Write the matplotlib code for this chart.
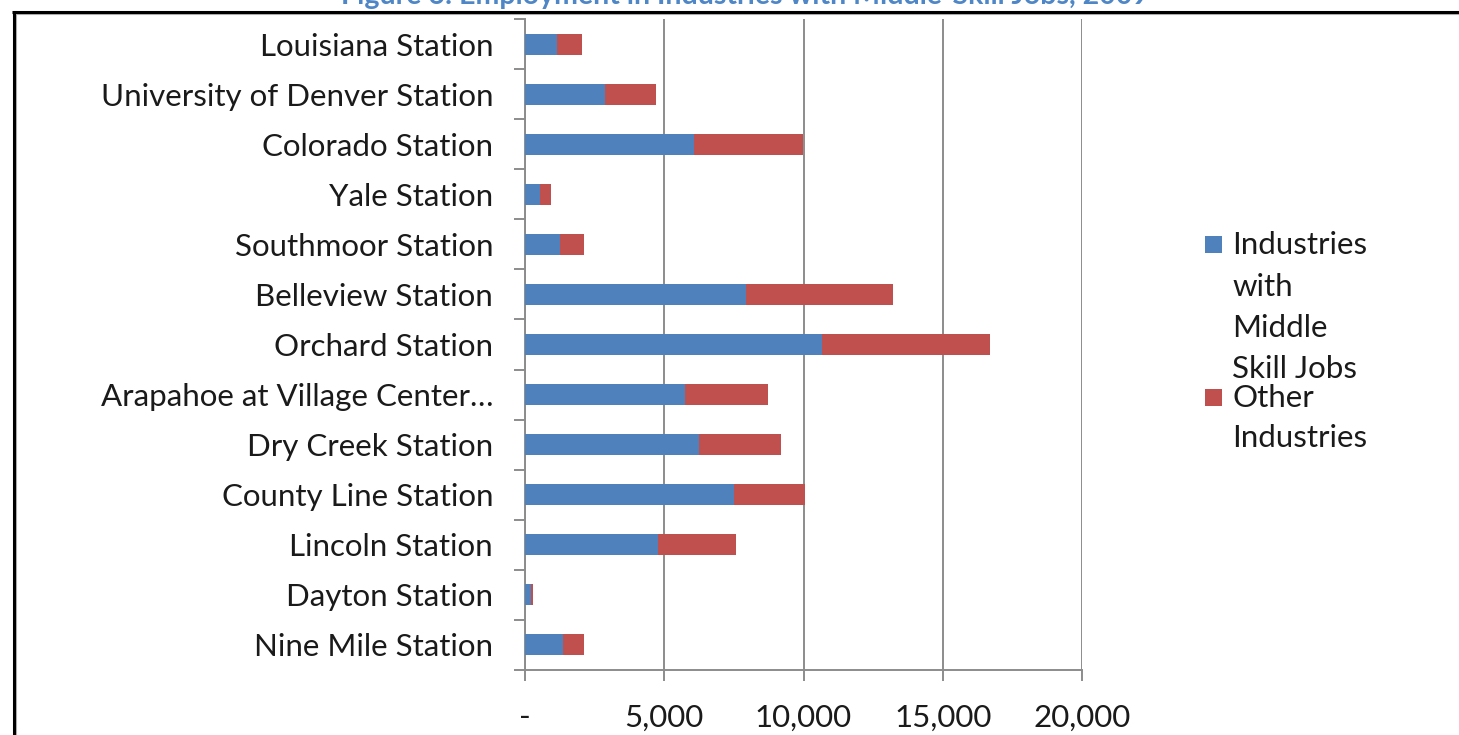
import matplotlib
matplotlib.use("Agg")
import matplotlib.pyplot as plt
from matplotlib.lines import Line2D
from matplotlib.patches import Rectangle
import numpy as np

stations = [
    "Louisiana Station",
    "University of Denver Station",
    "Colorado Station",
    "Yale Station",
    "Southmoor Station",
    "Belleview Station",
    "Orchard Station",
    "Arapahoe at Village Center\u2026",
    "Dry Creek Station",
    "County Line Station",
    "Lincoln Station",
    "Dayton Station",
    "Nine Mile Station",
]
middle_skill = [1140, 2880, 6070, 550, 1260, 7930, 10670, 5730, 6250, 7520, 4780, 210, 1370]
other = [900, 1830, 3900, 400, 850, 5270, 6010, 3010, 2940, 2550, 2790, 70, 740]

x_ticks = [0, 5000, 10000, 15000, 20000]
x_tick_labels = ["-", "5,000", "10,000", "15,000", "20,000"]

series_names = ["Industries with Middle Skill Jobs", "Other Industries"]
legend_lines = [["Industries", "with", "Middle", "Skill Jobs"], ["Other", "Industries"]]

BLUE = "#4F81BD"
RED = "#C0504D"
GRID = "#8C8C8C"
FONT = "Lato"
FS = 22.5
W, H = 1459, 735

fig = plt.figure(figsize=(W / 100, H / 100), dpi=100)
fig.patch.set_facecolor("white")

ax = fig.add_axes([525 / W, 1 - 670 / H, (1082 - 525) / W, (670 - 19) / H])

y = np.arange(len(stations))
ax.barh(y, middle_skill, height=0.42, color=BLUE, label=series_names[0], zorder=3)
ax.barh(y, other, left=middle_skill, height=0.42, color=RED, label=series_names[1], zorder=3)

ax.set_xlim(0, 20000)
ax.set_ylim(len(stations) - 0.5, -0.5)

# vertical gridlines
ax.set_xticks(x_ticks)
ax.set_xticklabels(x_tick_labels, fontsize=FS, family=FONT, color="#1a1a1a")
ax.grid(axis="x", color=GRID, lw=1.4, zorder=0)
ax.tick_params(axis="x", direction="out", length=8, width=1.4, color=GRID, pad=16)

# category boundaries as major ticks, names as minor-tick labels
ax.set_yticks(np.arange(-0.5, len(stations), 1.0))
ax.set_yticklabels([])
ax.set_yticks(y, minor=True)
ax.set_yticklabels(stations, minor=True, fontsize=FS, family=FONT, color="#1a1a1a")
ax.tick_params(axis="y", which="major", direction="out", length=8, width=1.4, color=GRID)
ax.tick_params(axis="y", which="minor", length=0, pad=23)

for side in ("top", "right"):
    ax.spines[side].set_visible(False)
for side in ("left", "bottom"):
    ax.spines[side].set_color(GRID)
    ax.spines[side].set_linewidth(1.4)

# legend, drawn line by line
def fx(px):
    return px / W

def fy(py):
    return 1 - py / H

legend_rows = [[245, 287, 328, 369], [398, 438]]
for color, lines, rows in zip([BLUE, RED], legend_lines, legend_rows):
    fig.patches.append(Rectangle((fx(1205), fy(rows[0] + 8)), 17 / W, 17 / H,
                                 transform=fig.transFigure, facecolor=color,
                                 edgecolor="none"))
    for text, row in zip(lines, rows):
        fig.text(fx(1232), fy(row), text, fontsize=FS, family=FONT,
                 color="#1a1a1a", va="center", ha="left")

# figure title running off the top edge
fig.text(fx(745), fy(4), "Figure 6: Employment in Industries with Middle-Skill Jobs, 2009",
         fontsize=20.5, family=FONT, weight="bold", color="#4F86C6",
         ha="center", va="baseline")

# outer frame with a soft shadow
fig.lines.append(Line2D([fx(14), fx(W)], [fy(14), fy(14)], transform=fig.transFigure,
                        color="#b0b0b0", lw=1.5))
fig.lines.append(Line2D([fx(16), fx(16)], [fy(12), 0], transform=fig.transFigure,
                        color="#b0b0b0", lw=1.5))
fig.lines.append(Line2D([fx(12), fx(W)], [fy(11.5), fy(11.5)], transform=fig.transFigure,
                        color="black", lw=2.2, solid_capstyle="butt"))
fig.lines.append(Line2D([fx(13.5), fx(13.5)], [fy(10.5), 0], transform=fig.transFigure,
                        color="black", lw=2.2, solid_capstyle="butt"))

fig.savefig("out.png", dpi=100, facecolor="white")
